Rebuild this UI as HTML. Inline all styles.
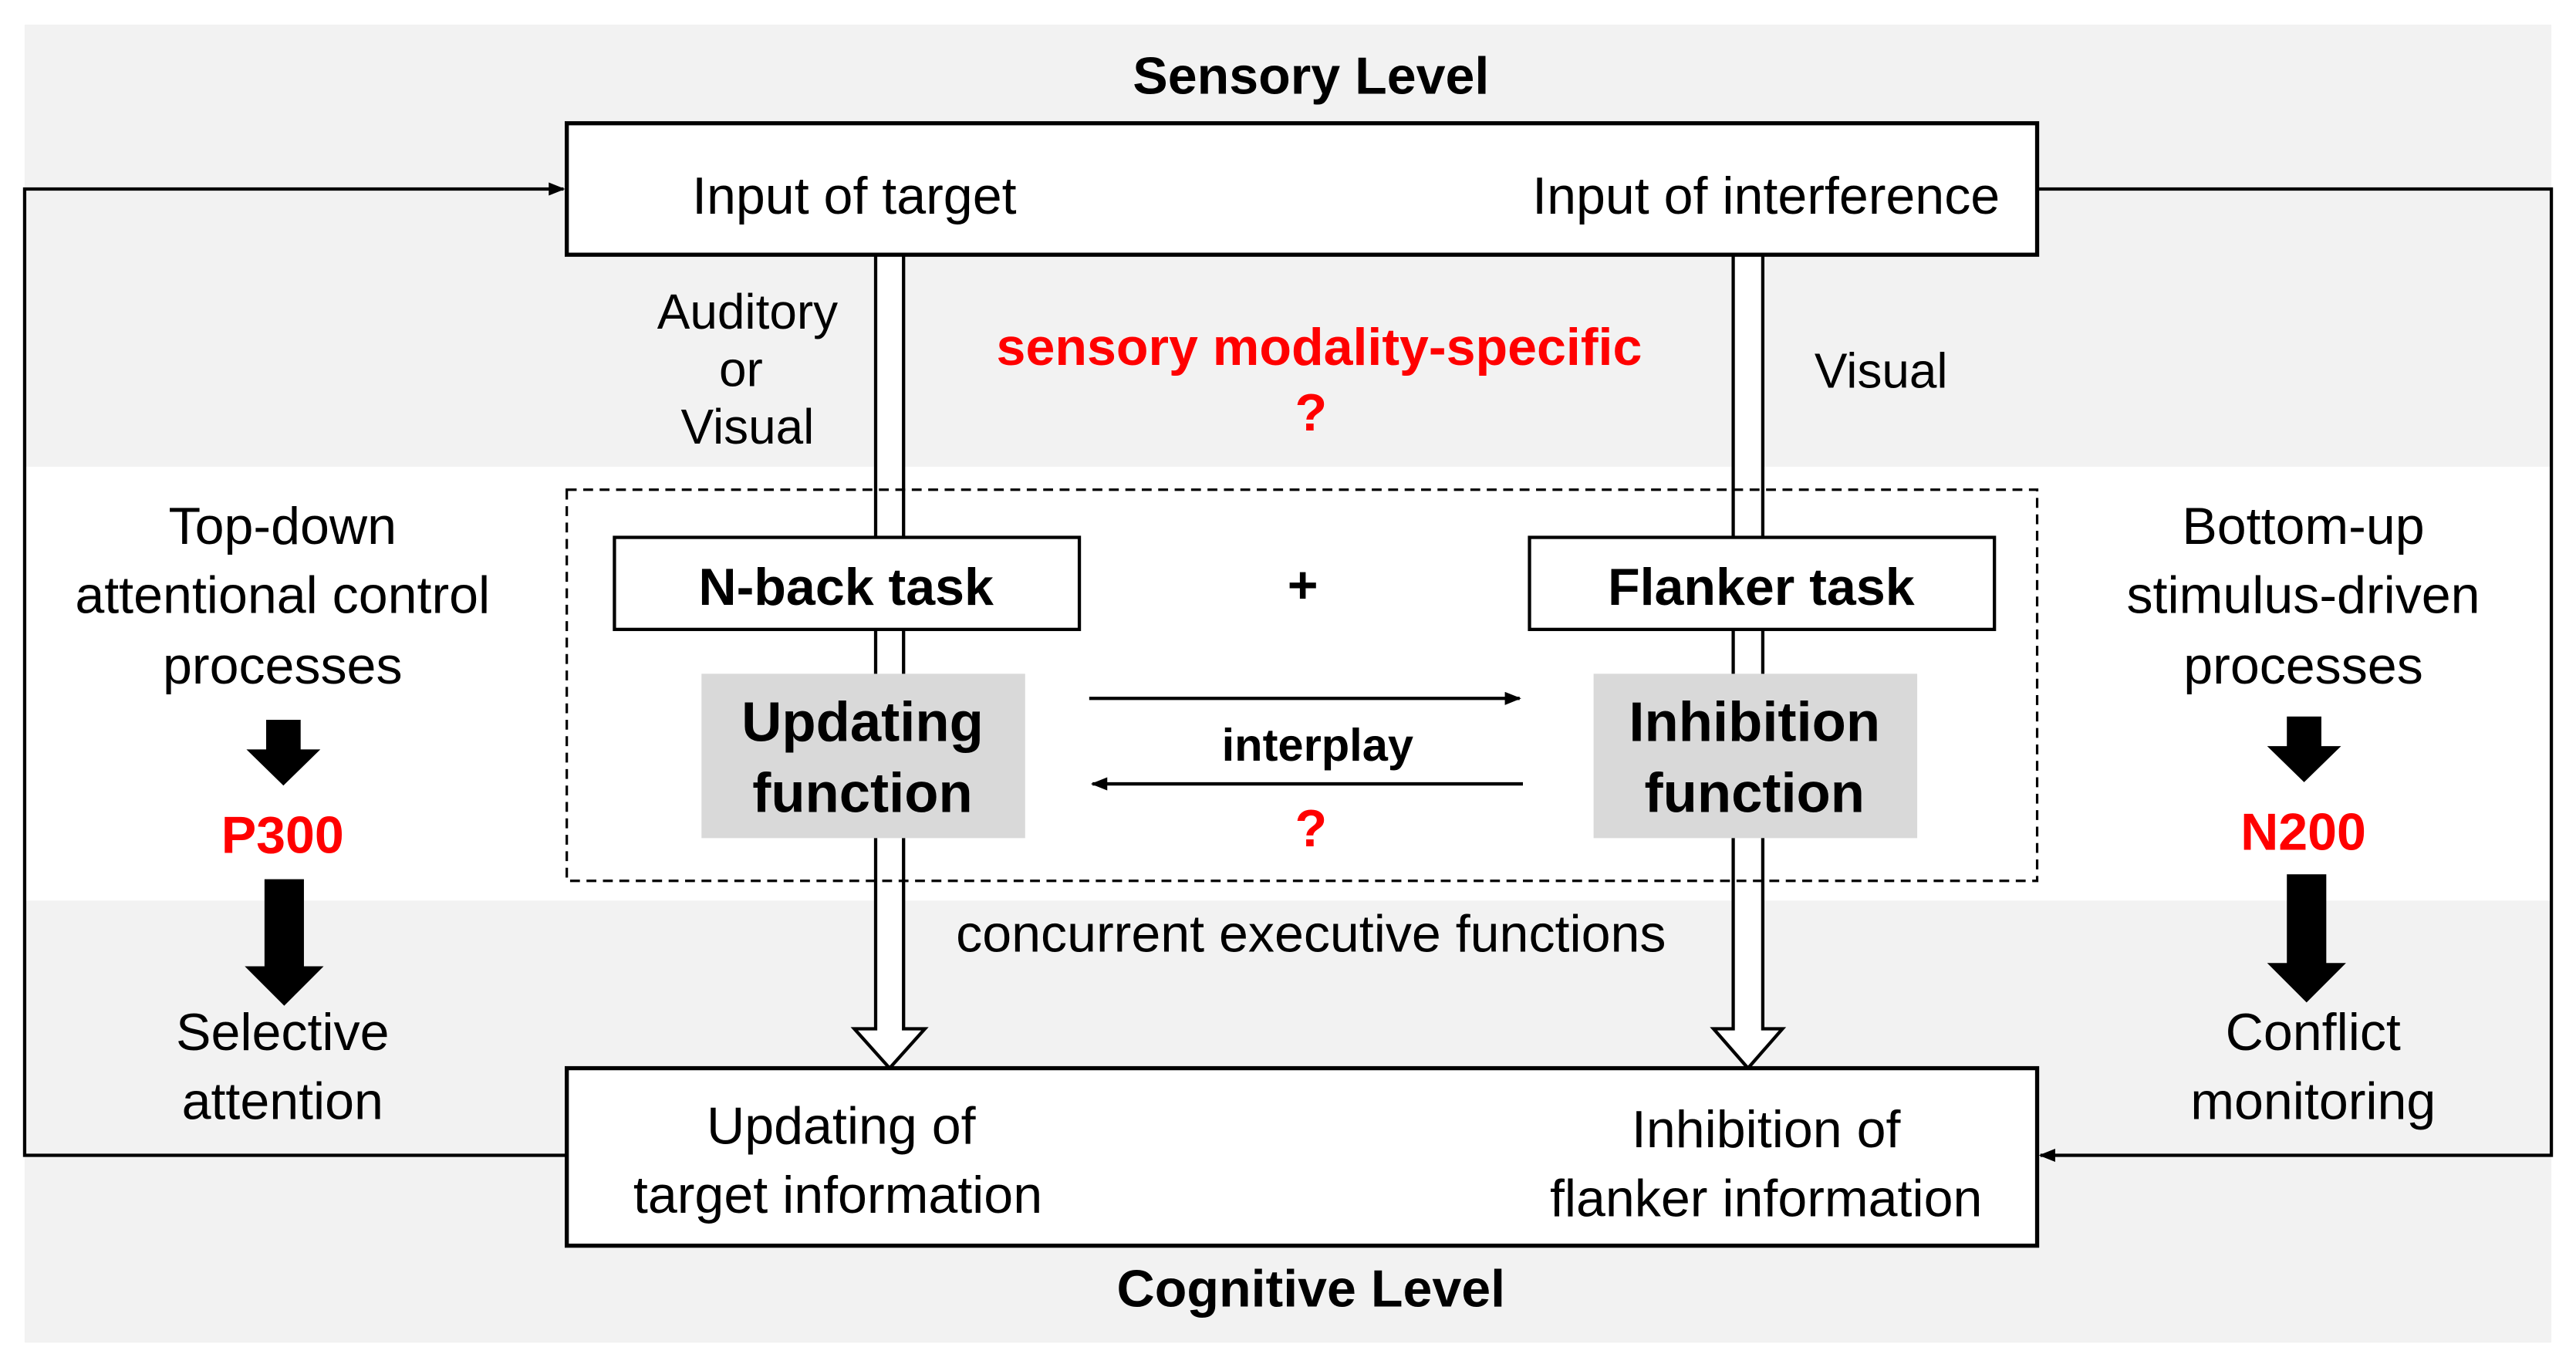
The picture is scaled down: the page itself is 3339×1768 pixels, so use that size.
<!DOCTYPE html>
<html><head><meta charset="utf-8"><style>
html,body{margin:0;padding:0;background:#fff;width:3339px;height:1768px;overflow:hidden}
svg{display:block}
text{font-family:"Liberation Sans",Arial,sans-serif;fill:#000}
.b{font-weight:bold}
.r{fill:#ff0000;font-weight:bold}
</style></head><body>
<svg width="3339" height="1768" viewBox="0 0 1568 830" preserveAspectRatio="none" xmlns="http://www.w3.org/2000/svg">
<defs>
<marker id="ah" markerWidth="10" markerHeight="8" refX="9" refY="4" orient="auto" markerUnits="userSpaceOnUse"><path d="M0,0 L10,4 L0,8 Z" fill="#000"/></marker>
</defs>
<rect x="15" y="15" width="1538" height="802" fill="#f2f2f2"/>
<rect x="15" y="284" width="1538" height="264" fill="#fff"/>

<!-- feedback lines -->
<polyline points="345,703 15,703 15,115 343,115" fill="none" stroke="#000" stroke-width="2" marker-end="url(#ah)"/>
<polyline points="1240,115 1553,115 1553,703 1242,703" fill="none" stroke="#000" stroke-width="2" marker-end="url(#ah)"/>

<text x="798" y="57" font-size="32" text-anchor="middle" class="b">Sensory Level</text>

<!-- double arrows -->
<g fill="#fff" stroke="#000" stroke-width="2">
<path d="M533,155 L533,626 L520,626 L541.5,650 L563,626 L550,626 L550,155"/>
<path d="M1055,155 L1055,626 L1043,626 L1064,650 L1085,626 L1073,626 L1073,155"/>
</g>

<rect x="345" y="75" width="895" height="80" fill="#fff" stroke="#000" stroke-width="2.5"/>
<text x="520" y="130" font-size="32" text-anchor="middle">Input of target</text>
<text x="1075" y="130" font-size="32" text-anchor="middle">Input of interference</text>

<text x="455" y="200" font-size="30" text-anchor="middle">Auditory</text>
<text x="451" y="235" font-size="30" text-anchor="middle">or</text>
<text x="455" y="270" font-size="30" text-anchor="middle">Visual</text>
<text x="803" y="222" font-size="32" text-anchor="middle" class="r">sensory modality-specific</text>
<text x="798" y="262" font-size="32" text-anchor="middle" class="r">?</text>
<text x="1145" y="236" font-size="30" text-anchor="middle">Visual</text>

<rect x="345" y="298" width="895" height="238" fill="none" stroke="#000" stroke-width="1.5" stroke-dasharray="6,4"/>

<rect x="374" y="327" width="283" height="56" fill="#fff" stroke="#000" stroke-width="2"/>
<text x="515" y="368" font-size="32" text-anchor="middle" class="b">N-back task</text>
<text x="793" y="367" font-size="32" text-anchor="middle" class="b">+</text>
<rect x="931" y="327" width="283" height="56" fill="#fff" stroke="#000" stroke-width="2"/>
<text x="1072" y="368" font-size="32" text-anchor="middle" class="b">Flanker task</text>

<rect x="427" y="410" width="197" height="100" fill="#d9d9d9"/>
<text x="525" y="451" font-size="34" text-anchor="middle" class="b">Updating</text>
<text x="525" y="494" font-size="34" text-anchor="middle" class="b">function</text>
<rect x="970" y="410" width="197" height="100" fill="#d9d9d9"/>
<text x="1068" y="451" font-size="34" text-anchor="middle" class="b">Inhibition</text>
<text x="1068" y="494" font-size="34" text-anchor="middle" class="b">function</text>

<line x1="663" y1="425" x2="925" y2="425" stroke="#000" stroke-width="2" marker-end="url(#ah)"/>
<line x1="927" y1="477" x2="665" y2="477" stroke="#000" stroke-width="2" marker-end="url(#ah)"/>
<text x="802" y="463" font-size="28" text-anchor="middle" class="b">interplay</text>
<text x="798" y="515" font-size="32" text-anchor="middle" class="r">?</text>

<text x="798" y="579" font-size="32" text-anchor="middle">concurrent executive functions</text>

<!-- left -->
<text x="172" y="331" font-size="32" text-anchor="middle">Top-down</text>
<text x="172" y="373" font-size="32" text-anchor="middle">attentional control</text>
<text x="172" y="416" font-size="32" text-anchor="middle">processes</text>
<path d="M162,438 L183,438 L183,456 L195,456 L172.5,478 L150,456 L162,456 Z" fill="#000"/>
<text x="172" y="519" font-size="32" text-anchor="middle" class="r">P300</text>
<path d="M161,535 L185,535 L185,588 L197,588 L173,612 L149,588 L161,588 Z" fill="#000"/>
<text x="172" y="639" font-size="32" text-anchor="middle">Selective</text>
<text x="172" y="681" font-size="32" text-anchor="middle">attention</text>

<!-- right -->
<text x="1402" y="331" font-size="32" text-anchor="middle">Bottom-up</text>
<text x="1402" y="373" font-size="32" text-anchor="middle">stimulus-driven</text>
<text x="1402" y="416" font-size="32" text-anchor="middle">processes</text>
<path d="M1392,436 L1413,436 L1413,454 L1425,454 L1402.5,476 L1380,454 L1392,454 Z" fill="#000"/>
<text x="1402" y="517" font-size="32" text-anchor="middle" class="r">N200</text>
<path d="M1392,532 L1416,532 L1416,586 L1428,586 L1404,610 L1380,586 L1392,586 Z" fill="#000"/>
<text x="1408" y="639" font-size="32" text-anchor="middle">Conflict</text>
<text x="1408" y="681" font-size="32" text-anchor="middle">monitoring</text>

<rect x="345" y="650" width="895" height="108" fill="#fff" stroke="#000" stroke-width="2.5"/>
<text x="512" y="696" font-size="32" text-anchor="middle">Updating of</text>
<text x="510" y="738" font-size="32" text-anchor="middle">target information</text>
<text x="1075" y="698" font-size="32" text-anchor="middle">Inhibition of</text>
<text x="1075" y="740" font-size="32" text-anchor="middle">flanker information</text>

<text x="798" y="795" font-size="32" text-anchor="middle" class="b">Cognitive Level</text>
</svg>
</body></html>
